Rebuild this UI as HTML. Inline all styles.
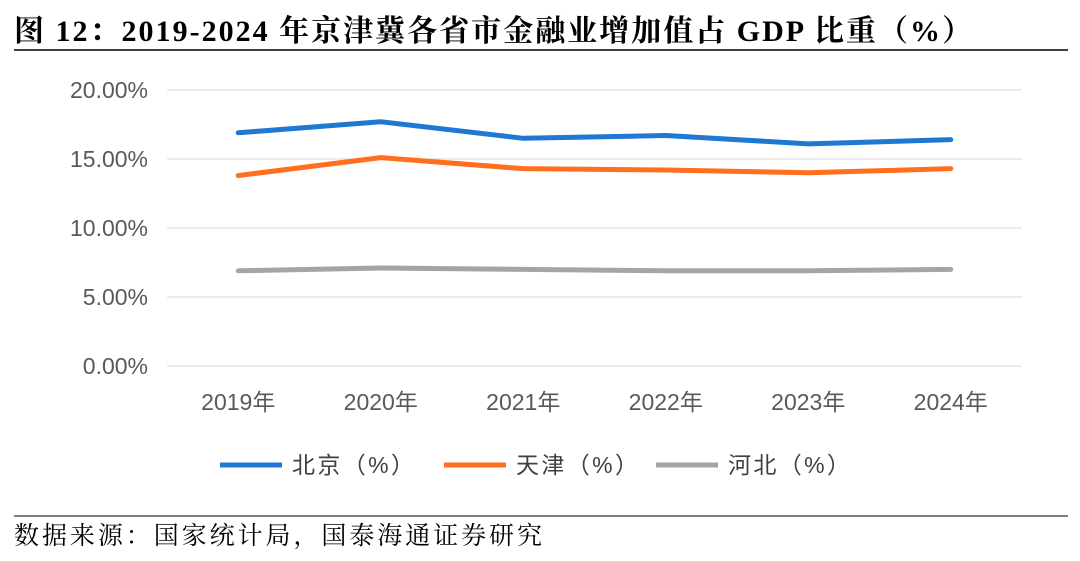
<!DOCTYPE html>
<html><head><meta charset="utf-8"><style>
body{margin:0;width:1080px;height:556px;background:#fff;overflow:hidden;font-family:"Liberation Sans","Noto Sans CJK SC",sans-serif;}
</style></head><body>
<svg width="1080" height="556" xmlns="http://www.w3.org/2000/svg">
<text x="14" y="41" font-family="'Liberation Serif','Noto Serif CJK SC',serif" font-weight="bold" font-size="30" textLength="958" lengthAdjust="spacing" fill="#000">图 12：2019-2024 年京津冀各省市金融业增加值占 GDP 比重（%）</text>
<line x1="14" y1="50" x2="1068" y2="50" stroke="#000" stroke-width="1.5"/>
<g id="grid"></g><g id="ylab"></g><g id="xlab"></g><g id="lines"></g>
<g font-size="23" fill="#404040" font-family="'Liberation Sans','Noto Sans CJK SC',sans-serif">
<line x1="220" y1="465" x2="282" y2="465" stroke="#1f78d1" stroke-width="5"/>
<text x="292" y="473" textLength="122" lengthAdjust="spacing">北京（%）</text>
<line x1="444" y1="465" x2="506" y2="465" stroke="#ff6f1e" stroke-width="5"/>
<text x="516" y="473" textLength="122" lengthAdjust="spacing">天津（%）</text>
<line x1="656" y1="465" x2="718" y2="465" stroke="#a5a5a5" stroke-width="5"/>
<text x="728" y="473" textLength="122" lengthAdjust="spacing">河北（%）</text>
</g>
<line x1="14" y1="516" x2="1068" y2="516" stroke="#000" stroke-width="1"/>
<text x="14" y="544" font-family="'Liberation Serif','Noto Serif CJK SC',serif" font-size="25" textLength="528" lengthAdjust="spacing" fill="#000">数据来源：国家统计局，国泰海通证券研究</text>
</svg>
<script>
const categories=["2019年","2020年","2021年","2022年","2023年","2024年"];
const beijing=[16.9,17.7,16.5,16.7,16.1,16.4];
const tianjin=[13.8,15.1,14.3,14.2,14.0,14.3];
const hebei=[6.9,7.1,7.0,6.9,6.9,7.0];
const yTicks=[0,5,10,15,20];
const yTickLabels=["0.00%","5.00%","10.00%","15.00%","20.00%"];
const NS="http://www.w3.org/2000/svg";
const L=167,R=1022,T=90,B=366;
const x=i=>L+(R-L)/categories.length*(i+0.5);
const y=v=>B-(B-T)*v/20;
function mk(tag,attrs,parent,txt){const e=document.createElementNS(NS,tag);for(const k in attrs)e.setAttribute(k,attrs[k]);if(txt!=null)e.textContent=txt;document.getElementById(parent).appendChild(e);return e;}
yTicks.forEach((t,i)=>{
 const g=mk("line",{x1:L,x2:R,y1:y(t),y2:y(t),stroke:"#d9d9d9","stroke-width":1},"grid");
 
 
 const tx=mk("text",{x:148,y:y(t)+8,"text-anchor":"end","font-size":23,fill:"#595959"},"ylab",yTickLabels[i]);
 
 
});
categories.forEach((c,i)=>{
 const tx=mk("text",{x:x(i),y:410,"text-anchor":"middle","font-size":23,fill:"#595959"},"xlab",c);
 
 
});
[[beijing,"#1f78d1","line-beijing"],[tianjin,"#ff6f1e","line-tianjin"],[hebei,"#a5a5a5","line-hebei"]].forEach(([d,col,n])=>{
 const p=mk("polyline",{points:d.map((v,i)=>x(i)+","+y(v)).join(" "),fill:"none",stroke:col,"stroke-width":5,"stroke-linejoin":"round","stroke-linecap":"round"},"lines");
 
 
});
</script>
</body></html>
